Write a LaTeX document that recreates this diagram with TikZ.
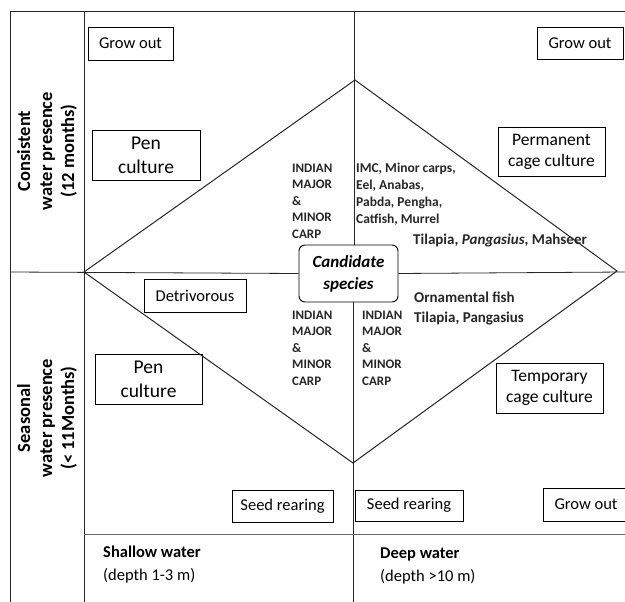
\documentclass[tikz,border=0pt]{standalone}
\usepackage{fontspec}
\setmainfont{Carlito}
\begin{document}
\begin{tikzpicture}[x=1pt,y=-1pt,
  box/.style={draw, line width=0.9pt, inner sep=0pt, align=center, font=\fontsize{16.5}{19.5}\selectfont},
  bigbox/.style={box, font=\fontsize{19.5}{24}\selectfont},
  ln/.style={line width=0.8pt, draw=black!85},
  dia/.style={line width=1pt, draw=black!85},
  caps/.style={font=\bfseries\fontsize{13}{16.5}\selectfont, align=left, inner sep=0pt, anchor=base west, text=black!85},
  sp/.style={font=\bfseries\fontsize{13.5}{17}\selectfont, align=left, inner sep=0pt, anchor=base west, text=black!85},
  side/.style={font=\bfseries\fontsize{18.5}{22}\selectfont, align=center, rotate=90, inner sep=0pt},
  foot/.style={font=\fontsize{16.5}{22.5}\selectfont, align=left, inner sep=0pt, anchor=base west}]
\useasboundingbox (0,0) rectangle (625,602);

% grid coordinates
\coordinate (TL) at (10,11);
\coordinate (TR) at (625,11);
\coordinate (C1) at (84,11);
\coordinate (CM) at (354,11);
\coordinate (ML) at (10,272);
\coordinate (MR) at (625,272);
\coordinate (BL) at (10,602);
\coordinate (B2) at (84,602);
\coordinate (BC) at (353,602);
\coordinate (HL) at (84,534);
\coordinate (HR) at (625,534);
% diamond
\coordinate (dL) at (84,272);
\coordinate (dT) at (355,80);
\coordinate (dR) at (617,271);
\coordinate (dB) at (353,463);

% boxes
\node[box, minimum width=85pt, minimum height=33pt] (growTL) at (130.5,43.5) {Grow out};
\node[bigbox, minimum width=108pt, minimum height=50pt] (penT) at (146,155) {Pen\\culture};
\node[box, minimum width=86pt, minimum height=32pt] (growTR) at (580,43) {Grow out};
\node[box, minimum width=107pt, minimum height=49pt, font=\fontsize{17.5}{21}\selectfont] (permT) at (551.5,151.5) {Permanent\\cage culture};
\node[box, rounded corners=6pt, minimum width=99pt, minimum height=57pt, font=\bfseries\itshape\fontsize{17}{22}\selectfont] (cand) at (348.5,273.5) {Candidate\\species};
\node[box, minimum width=102pt, minimum height=33pt] (detr) at (195,295.5) {Detrivorous};
\node[bigbox, minimum width=107pt, minimum height=50pt] (penB) at (148.5,379) {Pen\\culture};
\node[box, minimum width=107pt, minimum height=50pt, font=\fontsize{17.5}{21}\selectfont] (tempB) at (549.5,388) {Temporary\\cage culture};
\node[box, minimum width=101pt, minimum height=32pt] (seedL) at (282.5,506) {Seed rearing};
\node[box, minimum width=108pt, minimum height=31pt] (seedR) at (409,505.5) {Seed rearing};
\node[box, minimum width=86pt, minimum height=33pt] (growBR) at (586,504.5) {Grow out};

% grid lines
\draw[ln] (TL) -- (TR);
\draw[ln] (TL) -- (BL);
\draw[ln] (C1) -- (B2);
\draw[ln] (ML) -- (cand.west);
\draw[ln] (cand.east) -- (MR);
\draw[ln] (CM) -- (CM |- cand.north);
\draw[ln] (BC |- cand.south) -- (BC);
\draw[ln, draw=black!60] (HL) -- (HR);

% diamond
\draw[dia] (dL) -- (dT) -- (dR) -- (dB) -- cycle;

% side labels
\node[side] (consist) at (47,151) {Consistent\\water presence\\(12 months)};
\node[side] (season) at (47,418) {Seasonal\\water presence\\(< 11Months)};

% species texts (anchored at the baseline of the last line)
\node[caps] (carpU) at (292,238) {INDIAN\\MAJOR\\\&\\MINOR\\CARP};
\node[caps] (carpLL) at (292,385) {INDIAN\\MAJOR\\\&\\MINOR\\CARP};
\node[caps] (carpLR) at (362,385) {INDIAN\\MAJOR\\\&\\MINOR\\CARP};
\node[sp] (imc) at (356,223) {IMC, Minor carps,\\Eel, Anabas,\\Pabda, Pengha,\\Catfish, Murrel};
\node[sp, font=\bfseries\fontsize{15}{17}\selectfont] (tilU) at (413,244) {Tilapia, \textit{Pangasius}, Mahseer};
\node[sp, font=\bfseries\fontsize{15}{20}\selectfont] (orn) at (414,322) {Ornamental fish\\Tilapia, Pangasius};

% footer
\node[foot] (shallow) at (103,580) {\textbf{Shallow water}\\(depth 1-3 m)};
\node[foot] (deep) at (380,581) {\textbf{Deep water}\\(depth >10 m)};
\end{tikzpicture}
\end{document}
